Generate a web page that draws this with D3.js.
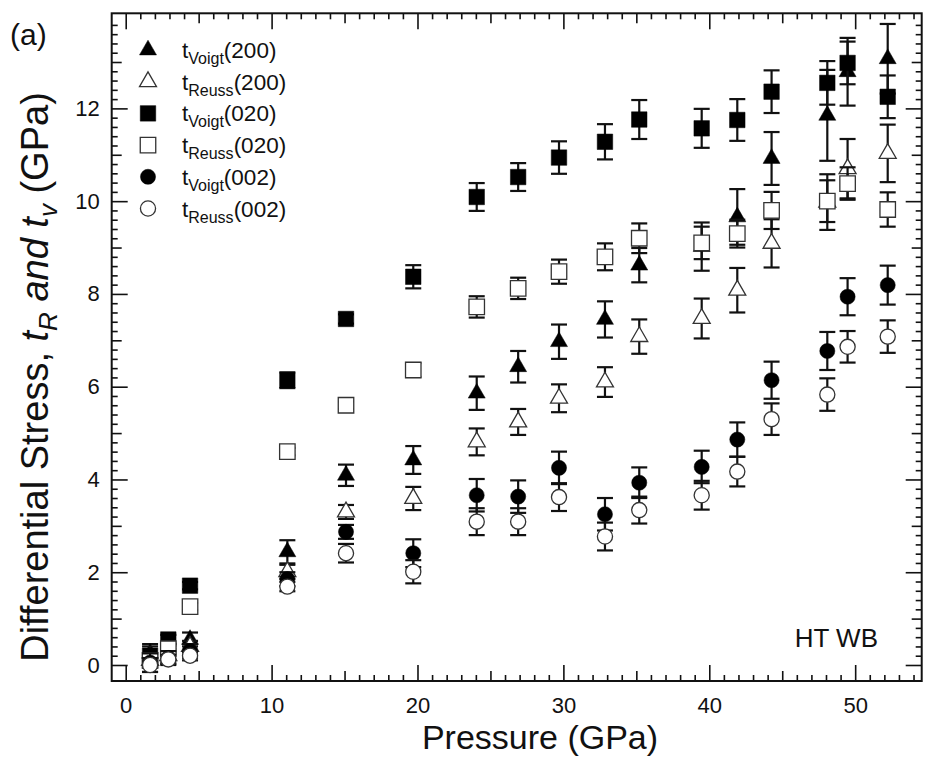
<!DOCTYPE html>
<html lang="en">
<head>
  <meta charset="UTF-8">
  <title>Differential stress vs pressure</title>
  <style>
    body { margin: 0; background: #fff; }
    svg { display: block; font-family: "Liberation Sans", Arial, sans-serif; }
  </style>
</head>
<body>
  <svg width="927" height="757"></svg>

  <script src="https://d3js.org/d3.v7.min.js"></script>
  <script>
    // pressure points (GPa)
    const pressure = [1.67, 2.92, 4.41, 11.08, 15.1, 19.71, 24.06, 26.9, 29.7, 32.85, 35.2, 39.48, 41.92, 44.27, 48.09, 49.48, 52.23];

    const voigt200 = [0.25, 0.2, 0.55, 2.44, 4.09, 4.42, 5.86, 6.43, 6.97, 7.45, 8.62, 9.02, 9.66, 10.92, 11.85, 12.79, 13.07];
    const voigt200Err = [0.2, 0.15, 0.15, 0.25, 0.23, 0.3, 0.36, 0.34, 0.37, 0.39, 0.37, 0.52, 0.6, 0.57, 0.98, 0.73, 0.75];

    const reuss200 = [0.1, 0.2, 0.4, 2.01, 3.3, 3.59, 4.81, 5.24, 5.75, 6.1, 7.08, 7.47, 8.08, 9.09, 9.98, 10.7, 11.03];
    const reuss200Err = [0.15, 0.1, 0.12, 0.15, 0.15, 0.25, 0.29, 0.28, 0.3, 0.32, 0.37, 0.43, 0.48, 0.52, 0.6, 0.64, 0.62];

    const voigt020 = [0.2, 0.55, 1.71, 6.14, 7.46, 8.37, 10.09, 10.52, 10.94, 11.28, 11.76, 11.57, 11.75, 12.36, 12.55, 12.98, 12.25];
    const voigt020Err = [0.2, 0.1, 0.08, 0.17, 0.1, 0.25, 0.3, 0.3, 0.35, 0.38, 0.42, 0.42, 0.45, 0.46, 0.47, 0.46, 0.46];

    const reuss020 = [0.1, 0.35, 1.26, 4.6, 5.6, 6.36, 7.72, 8.12, 8.48, 8.8, 9.2, 9.1, 9.3, 9.8, 10.0, 10.38, 9.82];
    const reuss020Err = [0.15, 0.1, 0.08, 0.08, 0.08, 0.15, 0.23, 0.23, 0.26, 0.29, 0.32, 0.35, 0.3, 0.4, 0.45, 0.35, 0.37];

    const voigt002 = [0.05, 0.15, 0.3, 1.85, 2.87, 2.41, 3.66, 3.63, 4.25, 3.25, 3.93, 4.27, 4.86, 6.14, 6.77, 7.94, 8.19];
    const voigt002Err = [0.2, 0.15, 0.15, 0.15, 0.15, 0.3, 0.35, 0.35, 0.35, 0.35, 0.33, 0.35, 0.37, 0.4, 0.41, 0.4, 0.42];

    const reuss002 = [0.0, 0.12, 0.2, 1.69, 2.41, 2.01, 3.09, 3.09, 3.62, 2.77, 3.34, 3.66, 4.17, 5.3, 5.83, 6.86, 7.08];
    const reuss002Err = [0.15, 0.1, 0.1, 0.1, 0.2, 0.25, 0.29, 0.29, 0.3, 0.3, 0.29, 0.31, 0.32, 0.34, 0.35, 0.34, 0.35];

    const xMajor = [0, 10, 20, 30, 40, 50];
    const yMajor = [0, 2, 4, 6, 8, 10, 12];

    const series = [
      { sub: "Voigt", hkl: "(200)", shape: d3.symbolTriangle, size: 125, filled: true,  v: voigt200, e: voigt200Err },
      { sub: "Reuss", hkl: "(200)", shape: d3.symbolTriangle, size: 125, filled: false, v: reuss200, e: reuss200Err },
      { sub: "Voigt", hkl: "(020)", shape: d3.symbolSquare,   size: 240, filled: true,  v: voigt020, e: voigt020Err },
      { sub: "Reuss", hkl: "(020)", shape: d3.symbolSquare,   size: 240, filled: false, v: reuss020, e: reuss020Err },
      { sub: "Voigt", hkl: "(002)", shape: d3.symbolCircle,   size: 180, filled: true,  v: voigt002, e: voigt002Err },
      { sub: "Reuss", hkl: "(002)", shape: d3.symbolCircle,   size: 180, filled: false, v: reuss002, e: reuss002Err }
    ];

    const svg = d3.select("svg");
    const pLeft = 111.7, pRight = 921.7, pTop = 13.3, pBottom = 681;

    const x = d3.scaleLinear().domain([-0.96, 54.56]).range([pLeft, pRight]);
    const y = d3.scaleLinear().domain([-0.345, 14.05]).range([pBottom, pTop]);

    // ticks (all inward)
    function ticksFor(axisFn, scale, vals, size) {
      return axisFn(scale).tickValues(vals).tickSize(size).tickFormat("");
    }
    const xMinor = d3.range(0, 55, 1).filter(d => d % 5 !== 0);
    const xMid = d3.range(5, 55, 10);
    const yMinor = d3.range(0, 14.01, 0.2).map(d => +d.toFixed(1)).filter(d => Math.abs(d - Math.round(d)) > 0.01);
    const yMid = [1, 3, 5, 7, 9, 11, 13];

    const axes = svg.append("g").attr("class", "axes");
    [[xMinor, -6], [xMid, -10]].forEach(([vals, s]) => {
      axes.append("g").attr("transform", `translate(0,${pBottom})`).call(ticksFor(d3.axisBottom, x, vals, s));
      axes.append("g").attr("transform", `translate(0,${pTop})`).call(ticksFor(d3.axisTop, x, vals, s));
    });
    axes.append("g").attr("transform", `translate(0,${pTop})`).call(ticksFor(d3.axisTop, x, xMajor, -16));
    axes.append("g").attr("class", "x-lab").attr("transform", `translate(0,${pBottom})`)
      .call(d3.axisBottom(x).tickValues(xMajor).tickSize(-16).tickPadding(16));

    [[yMinor, -6], [yMid, -10]].forEach(([vals, s]) => {
      axes.append("g").attr("transform", `translate(${pLeft},0)`).call(ticksFor(d3.axisLeft, y, vals, s));
      axes.append("g").attr("transform", `translate(${pRight},0)`).call(ticksFor(d3.axisRight, y, vals, s));
    });
    axes.append("g").attr("transform", `translate(${pRight},0)`).call(ticksFor(d3.axisRight, y, yMajor, -16));
    axes.append("g").attr("class", "y-lab").attr("transform", `translate(${pLeft},0)`)
      .call(d3.axisLeft(y).tickValues(yMajor).tickSize(-16).tickPadding(12));

    axes.selectAll(".domain").remove();
    axes.selectAll(".tick line").attr("stroke", "#111").attr("stroke-width", 1.6);
    axes.selectAll(".tick text").attr("font-size", 22).attr("fill", "#111")
      .attr("font-family", "'Liberation Sans', Arial, sans-serif");

    svg.append("rect")
      .attr("x", pLeft).attr("y", pTop)
      .attr("width", pRight - pLeft).attr("height", pBottom - pTop)
      .attr("fill", "none").attr("stroke", "#111").attr("stroke-width", 2);

    // data
    const plot = svg.append("g");
    const capW = 8;
    series.forEach(s => {
      const g = plot.append("g");
      const pts = pressure.map((p, i) => ({ p, v: s.v[i], e: s.e[i] }));
      const bars = g.selectAll("g.err").data(pts).join("g").attr("class", "err")
        .attr("stroke", "#111").attr("stroke-width", 2.2);
      bars.append("line")
        .attr("x1", d => x(d.p)).attr("x2", d => x(d.p))
        .attr("y1", d => y(d.v - d.e)).attr("y2", d => y(d.v + d.e));
      bars.append("line")
        .attr("x1", d => x(d.p) - capW).attr("x2", d => x(d.p) + capW)
        .attr("y1", d => y(d.v + d.e)).attr("y2", d => y(d.v + d.e));
      bars.append("line")
        .attr("x1", d => x(d.p) - capW).attr("x2", d => x(d.p) + capW)
        .attr("y1", d => y(d.v - d.e)).attr("y2", d => y(d.v - d.e));

      const sym = d3.symbol().type(s.shape).size(s.size);
      g.selectAll("path.pt").data(pts).join("path").attr("class", "pt")
        .attr("d", sym)
        .attr("transform", d => `translate(${x(d.p)},${y(d.v)})`)
        .attr("fill", s.filled ? "#000" : "#fff")
        .attr("stroke", s.filled ? "#000" : "#333")
        .attr("stroke-width", s.filled ? 0.5 : 1.3);
    });

    // legend
    const legend = svg.append("g");
    series.forEach((s, i) => {
      const ly = 50 + i * 31.7;
      legend.append("path")
        .attr("d", d3.symbol().type(s.shape).size(s.size)())
        .attr("transform", `translate(148,${ly})`)
        .attr("fill", s.filled ? "#000" : "#fff")
        .attr("stroke", s.filled ? "#000" : "#333")
        .attr("stroke-width", s.filled ? 0.5 : 1.3);
      const t = legend.append("text").attr("x", 182).attr("y", ly + 8)
        .attr("font-size", 22.5).attr("fill", "#111");
      t.append("tspan").text("t");
      t.append("tspan").attr("font-size", 16).attr("dy", 6).text(s.sub);
      t.append("tspan").attr("dy", -6).text(s.hkl);
    });

    // titles
    svg.append("text").attr("x", 10).attr("y", 45).attr("font-size", 30).attr("fill", "#111").text("(a)");

    svg.append("text").attr("x", 540).attr("y", 749)
      .attr("text-anchor", "middle").attr("font-size", 34).attr("fill", "#111")
      .text("Pressure (GPa)");

    const yl = svg.append("text")
      .attr("transform", "translate(48,377) rotate(-90)")
      .attr("text-anchor", "middle").attr("font-size", 38).attr("fill", "#111");
    yl.append("tspan").text("Differential Stress, ");
    yl.append("tspan").attr("font-style", "italic").text("t");
    yl.append("tspan").attr("font-size", 26).attr("dy", 9).attr("font-style", "italic").text("R");
    yl.append("tspan").attr("dy", -9).attr("font-style", "italic").text("  and t");
    yl.append("tspan").attr("font-size", 26).attr("dy", 9).attr("font-style", "italic").text("v");
    yl.append("tspan").attr("dy", -9).text(" (GPa)");

    svg.append("text").attr("x", 878).attr("y", 647).attr("text-anchor", "end")
      .attr("font-size", 26).attr("fill", "#111").text("HT WB");
  </script>
</body>
</html>
